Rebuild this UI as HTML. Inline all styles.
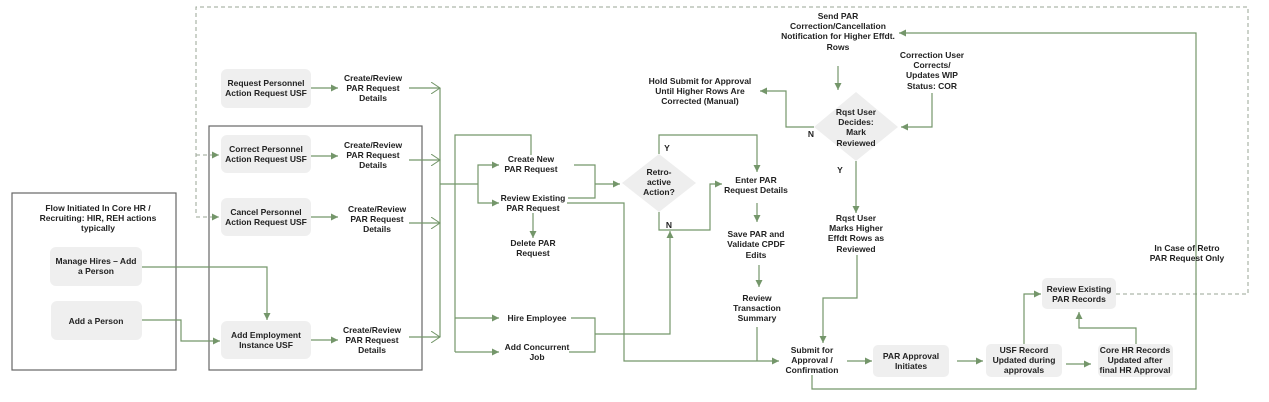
<!DOCTYPE html>
<html><head><meta charset="utf-8"><style>
html,body{margin:0;padding:0;background:#fff;}
svg{display:block;}
text{font-family:"Liberation Sans",Arial,sans-serif;font-size:8.5px;font-weight:bold;fill:#222;text-anchor:middle;}
.g{stroke:#74966a;stroke-width:1.2;fill:none;}
.d{stroke:#9aa696;stroke-width:1;fill:none;stroke-dasharray:4 3;}
.b{fill:#efefef;stroke:none;}
.o{fill:none;stroke:#666;stroke-width:1.2;}
</style></head><body>
<svg width="1269" height="402" viewBox="0 0 1269 402" xmlns="http://www.w3.org/2000/svg">
<defs>
<marker id="a" markerWidth="8" markerHeight="8" refX="7" refY="4" orient="auto" markerUnits="userSpaceOnUse"><path d="M0,0.5 L7,4 L0,7.5 Z" fill="#74966a"/></marker>
<marker id="c" markerWidth="10" markerHeight="12" refX="9" refY="6" orient="auto" markerUnits="userSpaceOnUse"><path d="M0,0 L9,6 L0,12" fill="none" stroke="#74966a" stroke-width="1"/></marker>
</defs>
<!-- outer boxes -->
<rect class="o" x="12" y="193" width="164" height="177"/>
<rect class="o" x="209" y="126" width="213" height="244"/>
<!-- dashed -->
<path class="d" d="M1116,294 H1248 V7 H196 V215"/>
<path class="d" d="M196,155 H219" marker-end="url(#a)"/>
<path class="d" d="M196,217 H219" marker-end="url(#a)"/>
<!-- boxes -->
<rect class="b" x="221" y="69" width="90" height="39" rx="6"/>
<rect class="b" x="221" y="135" width="90" height="38" rx="6"/>
<rect class="b" x="221" y="198" width="90" height="38" rx="6"/>
<rect class="b" x="221" y="321" width="90" height="38" rx="6"/>
<rect class="b" x="50" y="247" width="92" height="39" rx="6"/>
<rect class="b" x="51" y="301" width="91" height="39" rx="6"/>
<rect class="b" x="873" y="345" width="76" height="32" rx="5"/>
<rect class="b" x="986" y="344" width="76" height="33" rx="5"/>
<rect class="b" x="1098" y="344" width="75" height="33" rx="5"/>
<rect class="b" x="1042" y="278" width="74" height="31" rx="5"/>
<polygon points="659,154 696,183 659,212 622,183" fill="#eeeeee"/>
<polygon points="856,92 898,127 856,161 814,127" fill="#eeeeee"/>
<!-- left texts -->
<text x="98" y="211">Flow Initiated In Core HR /</text>
<text x="98" y="221">Recruiting: HIR, REH actions</text>
<text x="98" y="231">typically</text>
<text x="96" y="264">Manage Hires – Add</text>
<text x="96" y="274">a Person</text>
<text x="96" y="324">Add a Person</text>
<text x="266" y="86">Request Personnel</text><text x="266" y="96">Action Request USF</text>
<text x="266" y="152">Correct Personnel</text><text x="266" y="162">Action Request USF</text>
<text x="266" y="215">Cancel Personnel</text><text x="266" y="225">Action Request USF</text>
<text x="266" y="338">Add Employment</text><text x="266" y="348">Instance USF</text>
<text x="373" y="81">Create/Review</text><text x="373" y="91">PAR Request</text><text x="373" y="101">Details</text>
<text x="373" y="148">Create/Review</text><text x="373" y="158">PAR Request</text><text x="373" y="168">Details</text>
<text x="377" y="212">Create/Review</text><text x="377" y="222">PAR Request</text><text x="377" y="232">Details</text>
<text x="372" y="333">Create/Review</text><text x="372" y="343">PAR Request</text><text x="372" y="353">Details</text>
<!-- left connectors -->
<path class="g" d="M311,88 H338" marker-end="url(#a)"/>
<path class="g" d="M311,156 H338" marker-end="url(#a)"/>
<path class="g" d="M311,217 H338" marker-end="url(#a)"/>
<path class="g" d="M311,340 H338" marker-end="url(#a)"/>
<path class="g" d="M409,88 H440" marker-end="url(#c)"/>
<path class="g" d="M409,160 H440" marker-end="url(#c)"/>
<path class="g" d="M409,223 H440" marker-end="url(#c)"/>
<path class="g" d="M409,337 H440" marker-end="url(#c)"/>
<path class="g" d="M440,88 V337"/>
<path class="g" d="M142,267 H267 V320" marker-end="url(#a)"/>
<path class="g" d="M142,320 H181 V341 H220" marker-end="url(#a)"/>
<path class="g" d="M440,184 H478"/>
<path class="g" d="M478,184 V165 H499" marker-end="url(#a)"/>
<path class="g" d="M478,184 V203 H499" marker-end="url(#a)"/>
<path class="g" d="M531,155 V135 H455 V352"/>
<path class="g" d="M455,318 H499" marker-end="url(#a)"/>
<path class="g" d="M455,352 H499" marker-end="url(#a)"/>
<!-- middle texts -->
<text x="531" y="162">Create New</text><text x="531" y="172">PAR Request</text>
<text x="533" y="201">Review Existing</text><text x="533" y="211">PAR Request</text>
<text x="533" y="246">Delete PAR</text><text x="533" y="256">Request</text>
<text x="537" y="321">Hire Employee</text>
<text x="537" y="350">Add Concurrent</text><text x="537" y="360">Job</text>
<path class="g" d="M533,213 V238" marker-end="url(#a)"/>
<path class="g" d="M574,165 H595 V198 H568"/>
<path class="g" d="M595,184 H620" marker-end="url(#a)"/>
<path class="g" d="M567,203 H624 V361 H779" marker-end="url(#a)"/>
<path class="g" d="M571,318 H595 V352 H569"/>
<path class="g" d="M595,334 H670 V231" marker-end="url(#a)"/>
<!-- retro -->
<text x="659" y="175">Retro-</text><text x="659" y="185">active</text><text x="659" y="195">Action?</text>
<text x="667" y="151">Y</text><text x="669" y="228">N</text>
<path class="g" d="M659,154 V135 H757 V172" marker-end="url(#a)"/>
<path class="g" d="M659,212 V230 H710 V184 H722" marker-end="url(#a)"/>
<text x="756" y="183">Enter PAR</text><text x="756" y="193">Request Details</text>
<path class="g" d="M757,203 V222" marker-end="url(#a)"/>
<text x="756" y="237">Save PAR and</text><text x="756" y="247">Validate CPDF</text><text x="756" y="258">Edits</text>
<path class="g" d="M759,265 V287" marker-end="url(#a)"/>
<text x="757" y="301">Review</text><text x="757" y="311">Transaction</text><text x="757" y="321">Summary</text>
<path class="g" d="M757,327 V361"/>
<!-- top right -->
<text x="838" y="19">Send PAR</text><text x="838" y="29">Correction/Cancellation</text><text x="838" y="39">Notification for Higher Effdt.</text><text x="838" y="50">Rows</text>
<path class="g" d="M838,66 V90" marker-end="url(#a)"/>
<text x="932" y="58">Correction User</text><text x="932" y="68">Corrects/</text><text x="932" y="78">Updates WIP</text><text x="932" y="89">Status: COR</text>
<path class="g" d="M932,93 V127 H901" marker-end="url(#a)"/>
<text x="856" y="115">Rqst User</text><text x="856" y="125">Decides:</text><text x="856" y="135">Mark</text><text x="856" y="146">Reviewed</text>
<path class="g" d="M814,127 H786 V91 H760" marker-end="url(#a)"/>
<text x="811" y="137">N</text><text x="840" y="173">Y</text>
<text x="700" y="84">Hold  Submit for Approval</text><text x="700" y="94">Until Higher Rows Are</text><text x="700" y="104">Corrected (Manual)</text>
<path class="g" d="M856,161 V213" marker-end="url(#a)"/>
<text x="856" y="221">Rqst User</text><text x="856" y="231">Marks Higher</text><text x="856" y="241">Effdt Rows as</text><text x="856" y="252">Reviewed</text>
<path class="g" d="M857,255 V298 H823 V343" marker-end="url(#a)"/>
<!-- bottom -->
<text x="812" y="353">Submit for</text><text x="812" y="363">Approval /</text><text x="812" y="373">Confirmation</text>
<path class="g" d="M812,375 V389 H1196 V33 H899" marker-end="url(#a)"/>
<text x="1187" y="251">In Case of Retro</text><text x="1187" y="261">PAR Request Only</text>
<path class="g" d="M847,361 H872" marker-end="url(#a)"/>
<text x="911" y="359">PAR Approval</text><text x="911" y="369">Initiates</text>
<path class="g" d="M957,361 H983" marker-end="url(#a)"/>
<text x="1024" y="353">USF Record</text><text x="1024" y="363">Updated during</text><text x="1024" y="373">approvals</text>
<path class="g" d="M1066,364 H1091" marker-end="url(#a)"/>
<text x="1135" y="353">Core HR Records</text><text x="1135" y="363">Updated after</text><text x="1135" y="373">final HR Approval</text>
<path class="g" d="M1024,344 V294 H1041" marker-end="url(#a)"/>
<path class="g" d="M1136,344 V328 H1079 V312" marker-end="url(#a)"/>
<text x="1079" y="292">Review Existing</text><text x="1079" y="302">PAR Records</text>
</svg>
</body></html>
